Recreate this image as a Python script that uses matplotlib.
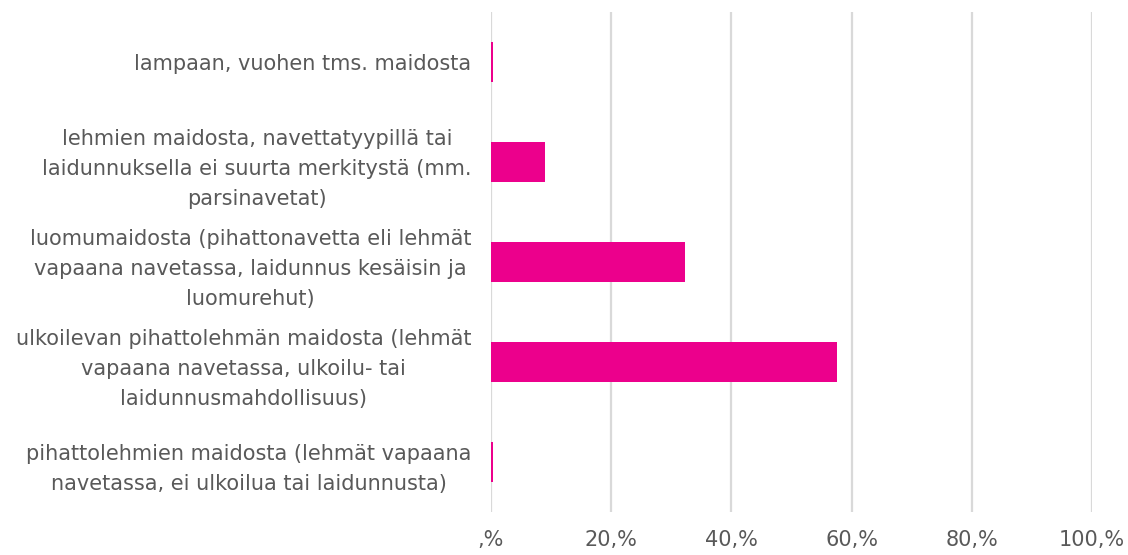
import matplotlib.pyplot as plt
from matplotlib.ticker import FuncFormatter

# Categories top to bottom
categories = [
    "lampaan, vuohen tms. maidosta",
    "lehmien maidosta, navettatyypillä tai\nlaidunnuksella ei suurta merkitystä (mm.\nparsinavetat)",
    "luomumaidosta (pihattonavetta eli lehmät\nvapaana navetassa, laidunnus kesäisin ja\nluomurehut)",
    "ulkoilevan pihattolehmän maidosta (lehmät\nvapaana navetassa, ulkoilu- tai\nlaidunnusmahdollisuus)",
    "pihattolehmien maidosta (lehmät vapaana\nnavetassa, ei ulkoilua tai laidunnusta)",
]
values = [0.3, 9.0, 32.3, 57.6, 0.3]
x_ticks = [0, 20, 40, 60, 80, 100]

text_color = "#595959"
bar_color = "#EC008C"

fig = plt.figure(figsize=(11.28, 5.55), dpi=100)
ax = fig.add_axes([491 / 1128, 1 - 512 / 555, (1092 - 491) / 1128, 500 / 555])

pos = list(range(len(categories)))
ax.barh(pos, values, height=0.4, color=bar_color, zorder=3)

ax.set_xlim(0, 100)
ax.set_ylim(len(categories) - 0.5, -0.5)
ax.set_yticks(pos)
ax.set_yticklabels(categories, multialignment="center", linespacing=1.62)
ax.set_xticks(x_ticks)
ax.xaxis.set_major_formatter(FuncFormatter(lambda v, p: ",%" if v == 0 else f"{int(v)},%"))

ax.grid(axis="x", color="#d9d9d9", linewidth=1.6, zorder=0)
for s in ax.spines.values():
    s.set_visible(False)
ax.tick_params(axis="both", length=0, labelsize=15, colors=text_color)
ax.tick_params(axis="y", pad=14)
ax.tick_params(axis="x", pad=13)

fig.savefig("out.png", dpi=100)
